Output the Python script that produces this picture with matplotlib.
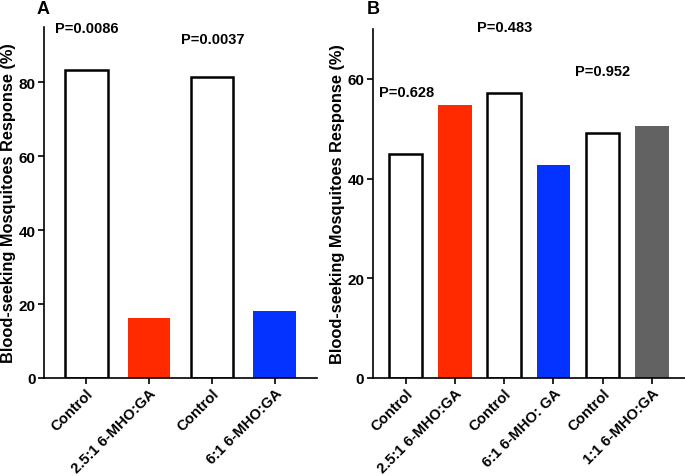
import matplotlib
matplotlib.use("Agg")
import matplotlib.pyplot as plt

plt.rcParams['font.family'] = ['Liberation Sans', 'DejaVu Sans']
plt.rcParams['font.weight'] = 'bold'

# Panel A data
cats_a = ["Control", "2.5:1 6-MHO:GA", "Control", "6:1 6-MHO:GA"]
vals_a = [83.4, 16.1, 81.5, 18.0]
colors_a = ["white", "#FF2A00", "white", "#0433FF"]
pvals_a = ["P=0.0086", "P=0.0037"]

# Panel B data
cats_b = ["Control", "2.5:1 6-MHO:GA", "Control", "6:1 6-MHO: GA", "Control", "1:1 6-MHO:GA"]
vals_b = [45.0, 54.7, 57.1, 42.7, 49.2, 50.6]
colors_b = ["white", "#FF2A00", "white", "#0433FF", "white", "#626262"]
pvals_b = ["P=0.628", "P=0.483", "P=0.952"]

ylabel = "Blood-seeking Mosquitoes Response (%)"

fig = plt.figure(figsize=(6.85, 4.77), dpi=100)
axA = fig.add_axes([0.0642, 0.2055, 0.3985, 0.7358])
axB = fig.add_axes([0.544, 0.2055, 0.456, 0.7316])


def style(ax, cats, vals, colors, ymax, yticks):
    x = list(range(len(cats)))
    for xi, v, c in zip(x, vals, colors):
        if c == "white":
            ax.bar(xi, v, width=0.68, color="white", edgecolor="black", linewidth=1.8, zorder=2)
        else:
            ax.bar(xi, v, width=0.68, color=c, edgecolor="none", zorder=2)
    ax.set_xlim(-0.67, len(cats) - 1 + 0.67)
    ax.set_ylim(0, ymax)
    ax.set_yticks(yticks)
    ax.set_yticklabels([str(t) for t in yticks], fontsize=11, fontweight='bold')
    ax.set_xticks(x)
    ax.set_xticklabels(cats, rotation=45, ha='right', rotation_mode='anchor',
                       fontsize=10.6, fontweight='bold')
    for s in ['top', 'right']:
        ax.spines[s].set_visible(False)
    for s in ['left', 'bottom']:
        ax.spines[s].set_linewidth(1.2)
    ax.tick_params(axis='both', direction='out', length=4, width=1.2, pad=2)
    ax.tick_params(axis='x', pad=1.5)
    ax.set_ylabel(ylabel, fontsize=11.8, fontweight='bold', labelpad=2)


style(axA, cats_a, vals_a, colors_a, 95, [0, 20, 40, 60, 80])
style(axB, cats_b, vals_b, colors_b, 70, [0, 20, 40, 60])

# P-value annotations (data coordinates)
axA.text(-0.49, 94.7, pvals_a[0], fontsize=10.5, fontweight='bold', ha='left', va='center', clip_on=False)
axA.text(1.51, 91.8, pvals_a[1], fontsize=10.5, fontweight='bold', ha='left', va='center', clip_on=False)
axB.text(-0.55, 57.4, pvals_b[0], fontsize=10.5, fontweight='bold', ha='left', va='center', clip_on=False)
axB.text(1.45, 70.4, pvals_b[1], fontsize=10.5, fontweight='bold', ha='left', va='center', clip_on=False)
axB.text(3.43, 61.5, pvals_b[2], fontsize=10.5, fontweight='bold', ha='left', va='center', clip_on=False)

fig.text(37 / 685, 1 - 9 / 477, "A", fontsize=13, fontweight='bold', ha='left', va='center')
fig.text(367 / 685, 1 - 10 / 477, "B", fontsize=13, fontweight='bold', ha='left', va='center')

fig.savefig("out.png", dpi=100)
